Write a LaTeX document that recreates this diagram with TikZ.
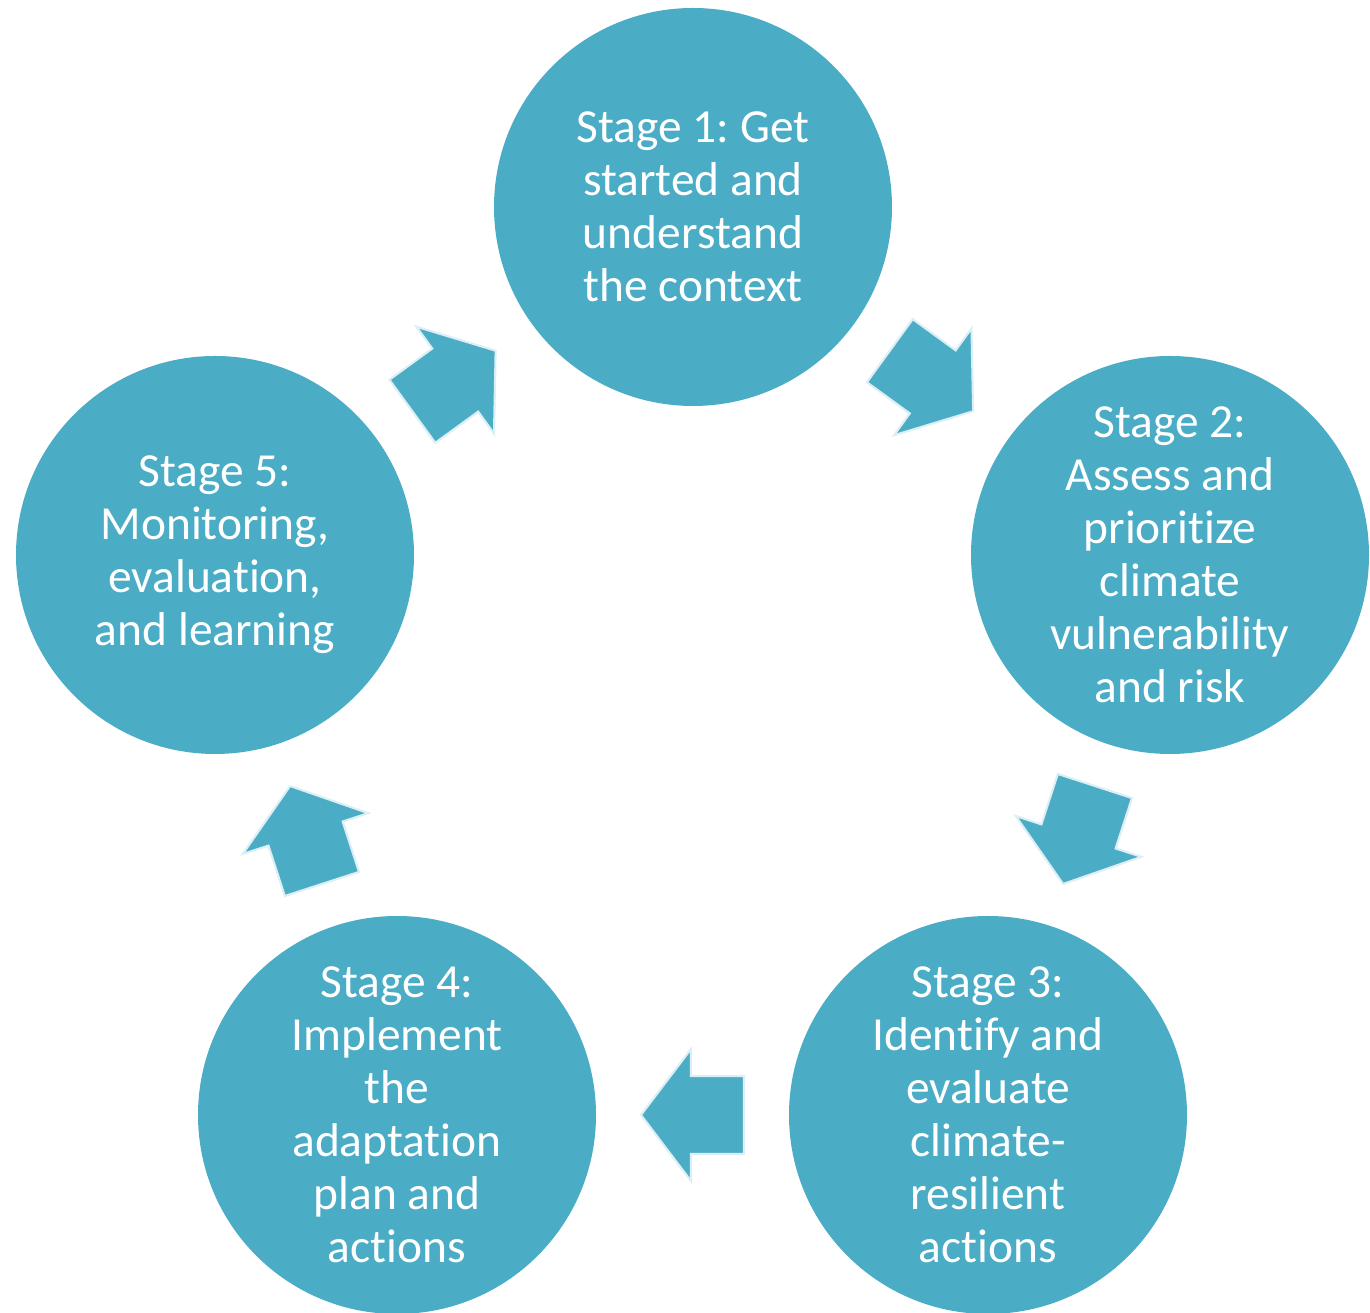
\documentclass[tikz,border=0pt]{standalone}
\usepackage{fontspec}
\setmainfont{Carlito}[Ligatures=NoCommon]
\usetikzlibrary{calc}
\definecolor{Cycle}{HTML}{4BACC6}
\definecolor{CycleEdge}{HTML}{DCEFF5}
\frenchspacing

\tikzset{
  stage/.style={circle,minimum size=3.98cm,inner sep=0pt,fill=Cycle,text=white,
    align=center,font=\fontsize{13.5}{15.1}\selectfont},
  flow/.pic={
    \filldraw[fill=Cycle,draw=CycleEdge,line width=0.6pt]
      (-0.515,0.39) -- (0.015,0.39) -- (0.015,0.66) -- (0.515,0)
      -- (0.015,-0.66) -- (0.015,-0.39) -- (-0.515,-0.39) -- cycle;
  }
}

\begin{document}
\begin{tikzpicture}[x=1cm,y=1cm]
\useasboundingbox (0,0) rectangle (13.70,13.13);
% stages
\node[stage] (s1) at (6.93,11.06) {Stage 1: Get\\started and\\understand\\the context};
\node[stage] (s2) at (11.70,7.58) {Stage 2:\\Assess and\\prioritize\\climate\\vulnerability\\and risk};
\node[stage] (s3) at (9.88,1.98) {Stage 3:\\Identify and\\evaluate\\climate-\\resilient\\actions};
\node[stage] (s4) at (3.97,1.98) {Stage 4:\\Implement\\the\\adaptation\\plan and\\actions};
\node[stage] (s5) at (2.15,7.58) {Stage 5:\\Monitoring,\\evaluation,\\and learning};
% block arrows
\path ($(s1)!0.5!(s2)$) pic[rotate=-36] {flow};
\path ($(s2)!0.5!(s3)$) pic[rotate=-108] {flow};
\path ($(s3)!0.5!(s4)$) pic[rotate=180] {flow};
\path ($(s4)!0.5!(s5)$) pic[rotate=108] {flow};
\path ($(s5)!0.5!(s1)$) pic[rotate=36] {flow};
\end{tikzpicture}
\end{document}
